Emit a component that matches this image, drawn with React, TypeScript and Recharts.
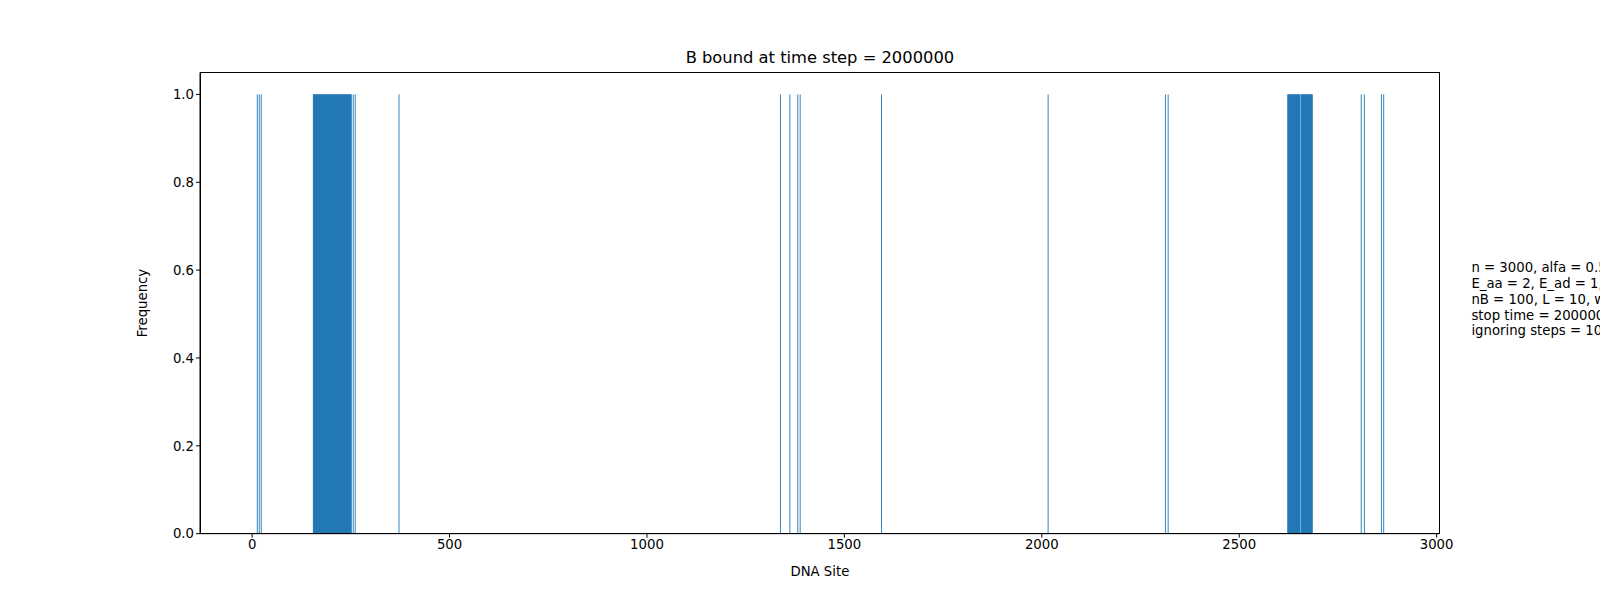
import React from 'react';
import { BarChart, Bar, XAxis, YAxis } from 'recharts';

// bound sites (frequency 1), single sites and contiguous runs
const singleSites = [13, 18, 23, 256, 261, 372, 1338, 1362, 1382, 1388, 1594, 2016, 2313, 2320, 2809, 2817, 2860, 2866];
const runs: [number, number][] = [[155, 251], [2623, 2654], [2657, 2685]];
const xTicks = [0, 500, 1000, 1500, 2000, 2500, 3000];
const yTicks = [0, 0.2, 0.4, 0.6, 0.8, 1.0];
const infoLines = [
  'n = 3000, alfa = 0.5, b = 1,',
  'E_aa = 2, E_ad = 1, E_dd = 0,',
  'nB = 100, L = 10, w = 1,',
  'stop time = 2000000,',
  'ignoring steps = 1000000',
];

const sites: number[] = [...singleSites];
runs.forEach(([a, b]) => { for (let s = a; s <= b; s++) sites.push(s); });
const data = sites.sort((a, b) => a - b).map((site) => ({ site, freq: 1 }));

const font = 'DejaVu Sans, sans-serif';
const k = 1600 / 1568;

const BarShape = (p: any) => (
  <rect x={p.x - 0.25} y={p.y} width={p.width + 0.5} height={p.height} fill="#1f77b4" />
);

export default function App() {
  return (
    <div style={{ position: 'absolute', left: 0, top: 0, width: 1568 * k, height: 600 * k, overflow: 'hidden', background: '#fff', fontFamily: font }}>
      <div style={{ position: 'absolute', top: 47 * k, left: 196 * k, width: 1215 * k, textAlign: 'center', fontSize: 16 * k }}>
        B bound at time step = 2000000
      </div>
      <BarChart width={1568 * k} height={600 * k} data={data}
        margin={{ top: 71 * k, right: 157 * k, bottom: 47 * k, left: 196 * k - 60 }} barCategoryGap={0} barGap={0}>
        <XAxis dataKey="site" type="number" domain={[-132, 3008]} ticks={xTicks} allowDataOverflow
          tick={{ fill: '#000', fontSize: 13 * k, fontFamily: font }} stroke="#000" tickSize={4} height={30 * k}
          label={{ value: 'DNA Site', position: 'insideBottom', offset: -12, fill: '#000', fontSize: 13 * k, fontFamily: font }} />
        <YAxis type="number" domain={[0, 1.05]} ticks={yTicks} width={60} tickFormatter={(v) => v.toFixed(1)}
          tick={{ fill: '#000', fontSize: 13 * k, fontFamily: font }} stroke="#000" tickSize={4}
          label={{ value: 'Frequency', angle: -90, position: 'insideLeft', offset: 2, fill: '#000', fontSize: 13 * k, fontFamily: font, style: { textAnchor: 'middle' } }} />
        <Bar dataKey="freq" fill="#1f77b4" shape={BarShape} isAnimationActive={false} />
      </BarChart>
      <div style={{ position: 'absolute', left: 196 * k, top: 71 * k, width: 1215 * k, height: 452 * k, border: '1px solid #000', boxSizing: 'border-box', pointerEvents: 'none' }} />
      <div style={{ position: 'absolute', left: 1442 * k, top: 255 * k, fontSize: 13 * k, lineHeight: `${15.5 * k}px`, whiteSpace: 'pre' }}>
        {infoLines.join('\n')}
      </div>
    </div>
  );
}
